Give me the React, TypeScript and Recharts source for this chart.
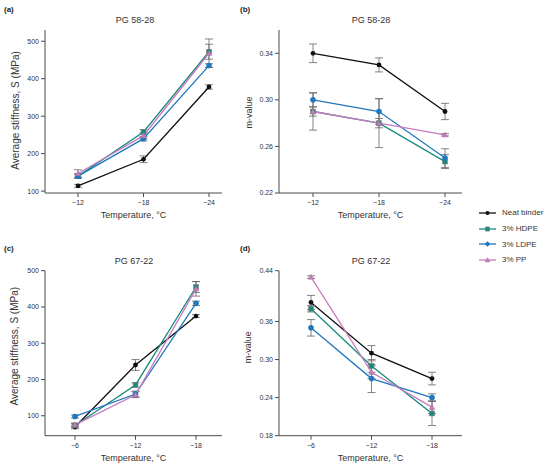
import React from 'react';
import { LineChart, Line, XAxis, YAxis, ErrorBar, Legend } from 'recharts';

const FONT = '"Liberation Sans", Arial, Helvetica, sans-serif';
const TEXT = '#333333';
const AXIS = '#4a4a4a';
const ERR = '#666666';

// series
const seriesNames = ['Neat binder', '3% HDPE', '3% LDPE', '3% PP'];
const seriesKeys = ['neat', 'hdpe', 'ldpe', 'pp'];
const seriesColors = ['#111111', '#178a7c', '#1f78bf', '#c77cbf'];
const seriesShapes = ['circle', 'square', 'diamond', 'triangle'];

// categories
const tempsA = ['−12', '−18', '−24'];
const tempsC = ['−6', '−12', '−18'];

// (a) PG 58-28 stiffness
const aNeat = [114, 185, 378];
const aNeatErr = [4, 9, 6];
const aHdpe = [140, 258, 472];
const aHdpeErr = [6, 6, 20];
const aLdpe = [140, 240, 435];
const aLdpeErr = [5, 6, 5];
const aPp = [147, 248, 468];
const aPpErr = [10, 8, 38];

// (b) PG 58-28 m-value
const bNeat = [0.34, 0.33, 0.29];
const bNeatErr = [0.008, 0.006, 0.007];
const bHdpe = [0.29, 0.28, 0.247];
const bHdpeErr = [0.004, 0.004, 0.006];
const bLdpe = [0.3, 0.29, 0.25];
const bLdpeErr = [0.006, 0.011, 0.008];
const bPp = [0.29, 0.28, 0.27];
const bPpErr = [0.016, 0.021, 0.001];

// (c) PG 67-22 stiffness
const cNeat = [69, 240, 375];
const cNeatErr = [5, 15, 4];
const cHdpe = [73, 185, 455];
const cHdpeErr = [5, 6, 15];
const cLdpe = [98, 160, 410];
const cLdpeErr = [4, 8, 6];
const cPp = [75, 158, 450];
const cPpErr = [5, 8, 20];

// (d) PG 67-22 m-value
const dNeat = [0.39, 0.31, 0.27];
const dNeatErr = [0.011, 0.012, 0.01];
const dHdpe = [0.38, 0.29, 0.215];
const dHdpeErr = [0.005, 0.01, 0.019];
const dLdpe = [0.35, 0.27, 0.24];
const dLdpeErr = [0.013, 0.022, 0.006];
const dPp = [0.43, 0.28, 0.225];
const dPpErr = [0.002, 0.01, 0.01];

// tick labels
const stiffTicks = [100, 200, 300, 400, 500];
const mTicksB = [0.22, 0.26, 0.3, 0.34];
const mTicksD = [0.18, 0.24, 0.3, 0.36, 0.44];

function buildRows(cats: string[], vals: number[][], errs: number[][]) {
  return cats.map((c, i) => {
    const row: any = { cat: c };
    seriesKeys.forEach((k, s) => {
      row[k] = vals[s][i];
      row[k + 'Err'] = errs[s][i];
    });
    return row;
  });
}

const dataA = buildRows(tempsA, [aNeat, aHdpe, aLdpe, aPp], [aNeatErr, aHdpeErr, aLdpeErr, aPpErr]);
const dataB = buildRows(tempsA, [bNeat, bHdpe, bLdpe, bPp], [bNeatErr, bHdpeErr, bLdpeErr, bPpErr]);
const dataC = buildRows(tempsC, [cNeat, cHdpe, cLdpe, cPp], [cNeatErr, cHdpeErr, cLdpeErr, cPpErr]);
const dataD = buildRows(tempsC, [dNeat, dHdpe, dLdpe, dPp], [dNeatErr, dHdpeErr, dLdpeErr, dPpErr]);

function Marker({ shape, color, cx, cy, s = 1 }: any) {
  if (cx == null || cy == null) return null;
  if (shape === 'circle') return <circle cx={cx} cy={cy} r={2.4 * s} fill={color} />;
  if (shape === 'square')
    return <rect x={cx - 2.4 * s} y={cy - 2.4 * s} width={4.8 * s} height={4.8 * s} fill={color} stroke="#7a7a7a" strokeWidth={0.6} />;
  if (shape === 'diamond') return <circle cx={cx} cy={cy} r={2.8 * s} fill={color} />;
  const h = 2.8 * s;
  return (
    <polygon
      points={`${cx},${cy - h} ${cx + h},${cy + h * 0.8} ${cx - h},${cy + h * 0.8}`}
      fill={color}
      stroke="#9a6a96"
      strokeWidth={0.4}
    />
  );
}

function LegendMarker({ shape, color, cx, cy }: any) {
  if (shape === 'diamond')
    return <polygon points={`${cx},${cy - 2.8} ${cx + 2.8},${cy} ${cx},${cy + 2.8} ${cx - 2.8},${cy}`} fill={color} />;
  return <Marker shape={shape} color={color} cx={cx} cy={cy} s={0.85} />;
}

const makeDot = (shape: string, color: string) => (props: any) => (
  <Marker key={`${shape}-${props.index}`} shape={shape} color={color} cx={props.cx} cy={props.cy} />
);

const yTitle = (text: string, dx: number, dy: number, size: number) => (props: any) => {
  const vb = props.viewBox || { x: 0, y: 0, width: 0, height: 0 };
  const x = vb.x + dx;
  const y = vb.y + vb.height / 2 + dy;
  return (
    <text
      x={x}
      y={y}
      transform={`rotate(-90 ${x} ${y})`}
      textAnchor="middle"
      dominantBaseline="central"
      fontSize={size}
      fontFamily={FONT}
      fill={TEXT}
    >
      {text}
    </text>
  );
};

const LegendContent = (props: any) => {
  const payload = [...(props.payload || [])].sort(
    (p: any, q: any) => seriesKeys.indexOf(p.dataKey) - seriesKeys.indexOf(q.dataKey)
  );
  return (
    <div style={{ fontFamily: FONT, fontSize: 8, color: TEXT }}>
      {payload.map((p: any, i: number) => {
        const idx = seriesKeys.indexOf(p.dataKey);
        return (
          <div key={i} style={{ display: 'flex', alignItems: 'center', height: 15.7 }}>
            <svg width={20} height={8} style={{ display: 'block' }}>
              <line x1={0} y1={4} x2={17} y2={4} stroke={seriesColors[idx]} strokeWidth={1.3} />
              <LegendMarker shape={seriesShapes[idx]} color={seriesColors[idx]} cx={8.5} cy={4} />
            </svg>
            <span style={{ marginLeft: 3, whiteSpace: 'nowrap' }}>{p.value}</span>
          </div>
        );
      })}
    </div>
  );
};

type PanelCfg = {
  data: any[];
  left: number;
  top: number;
  width: number;
  height: number;
  margin: { top: number; right: number; bottom: number; left: number };
  yWidth: number;
  domain: [number, number];
  ticks: number[];
  fmt: (v: number) => string;
  pad: { left: number; right: number };
  yLabel: string;
  yLabelDx: number;
  yLabelDy: number;
  yLabelSize: number;
  legend?: boolean;
};

const tickStyle = { fontSize: 7, fill: TEXT, fontFamily: FONT };

function Panel({ cfg }: { cfg: PanelCfg }) {
  return (
    <div style={{ position: 'absolute', left: cfg.left, top: cfg.top, width: cfg.width, height: cfg.height }}>
      <LineChart width={cfg.width} height={cfg.height} data={cfg.data} margin={cfg.margin}>
        <XAxis
          dataKey="cat"
          padding={cfg.pad}
          height={28}
          tick={tickStyle}
          tickSize={4}
          tickMargin={3}
          axisLine={{ stroke: AXIS, strokeWidth: 1 }}
          tickLine={{ stroke: AXIS }}
          label={{
            value: 'Temperature, °C',
            position: 'insideBottom',
            offset: 3,
            style: { fontSize: 9, fill: TEXT, fontFamily: FONT },
          }}
        />
        <YAxis
          type="number"
          width={cfg.yWidth}
          domain={cfg.domain}
          ticks={cfg.ticks}
          allowDataOverflow
          tickFormatter={cfg.fmt}
          tick={tickStyle}
          tickSize={4}
          tickMargin={2}
          axisLine={{ stroke: AXIS, strokeWidth: 1 }}
          tickLine={{ stroke: AXIS }}
          label={{ content: yTitle(cfg.yLabel, cfg.yLabelDx, cfg.yLabelDy, cfg.yLabelSize) }}
        />
        {seriesKeys.map((k, i) => (
          <Line
            key={k}
            type="linear"
            dataKey={k}
            name={seriesNames[i]}
            stroke={seriesColors[i]}
            strokeWidth={1.3}
            dot={makeDot(seriesShapes[i], seriesColors[i])}
            activeDot={false}
            isAnimationActive={false}
          >
            <ErrorBar dataKey={k + 'Err'} width={4} stroke={ERR} strokeWidth={0.8} direction="y" />
          </Line>
        ))}
        {cfg.legend ? (
          <Legend
            layout="vertical"
            align="center"
            verticalAlign="middle"
            content={LegendContent}
            wrapperStyle={{ left: 239, top: 205, width: 80 }}
          />
        ) : null}
      </LineChart>
    </div>
  );
}

const fmtInt = (v: number) => String(v);
const fmt2 = (v: number) => v.toFixed(2);

const panels: PanelCfg[] = [
  {
    data: dataA, left: 0, top: 0, width: 240, height: 234,
    margin: { top: 30, right: 18, bottom: 13, left: 0 }, yWidth: 45,
    domain: [95, 530], ticks: stiffTicks, fmt: fmtInt, pad: { left: 33, right: 13 },
    yLabel: 'Average stiffness, S (MPa)', yLabelDx: 15, yLabelDy: -1, yLabelSize: 10,
  },
  {
    data: dataB, left: 240, top: 0, width: 310, height: 234,
    margin: { top: 30, right: 88, bottom: 13, left: 0 }, yWidth: 39,
    domain: [0.22, 0.36], ticks: mTicksB, fmt: fmt2, pad: { left: 34, right: 17 },
    yLabel: 'm-value', yLabelDx: 8.5, yLabelDy: 1, yLabelSize: 9, legend: true,
  },
  {
    data: dataC, left: 0, top: 234, width: 240, height: 234,
    margin: { top: 36.7, right: 18, bottom: 4.3, left: 0 }, yWidth: 45,
    domain: [45, 500], ticks: stiffTicks, fmt: fmtInt, pad: { left: 30, right: 26 },
    yLabel: 'Average stiffness, S (MPa)', yLabelDx: 15, yLabelDy: -7, yLabelSize: 10,
  },
  {
    data: dataD, left: 240, top: 234, width: 310, height: 234,
    margin: { top: 36.7, right: 88, bottom: 4.3, left: 0 }, yWidth: 39,
    domain: [0.18, 0.44], ticks: mTicksD, fmt: fmt2, pad: { left: 32, right: 30 },
    yLabel: 'm-value', yLabelDx: 8.5, yLabelDy: -6, yLabelSize: 9,
  },
];

const titles = [
  { text: 'PG 58-28', x: 135, y: 20 },
  { text: 'PG 58-28', x: 371, y: 20 },
  { text: 'PG 67-22', x: 134, y: 261 },
  { text: 'PG 67-22', x: 371, y: 261 },
];

const letters = [
  { text: '(a)', x: 4, y: 10 },
  { text: '(b)', x: 240, y: 10 },
  { text: '(c)', x: 4, y: 249 },
  { text: '(d)', x: 240, y: 249 },
];

export default function App() {
  return (
    <div
      style={{
        position: 'absolute',
        left: 0,
        top: 0,
        width: 550,
        height: 468,
        background: '#ffffff',
        fontFamily: FONT,
        overflow: 'hidden',
      }}
    >
      {panels.map((p, i) => (
        <Panel key={i} cfg={p} />
      ))}
      {titles.map((t, i) => (
        <div
          key={'t' + i}
          style={{
            position: 'absolute',
            left: t.x,
            top: t.y,
            transform: 'translate(-50%, -50%)',
            fontSize: 9,
            color: TEXT,
            whiteSpace: 'nowrap',
            lineHeight: 1,
          }}
        >
          {t.text}
        </div>
      ))}
      {letters.map((t, i) => (
        <div
          key={'l' + i}
          style={{
            position: 'absolute',
            left: t.x,
            top: t.y,
            transform: 'translateY(-50%)',
            fontSize: 8,
            fontWeight: 'bold',
            color: '#222',
            whiteSpace: 'nowrap',
            lineHeight: 1,
          }}
        >
          {t.text}
        </div>
      ))}
    </div>
  );
}
